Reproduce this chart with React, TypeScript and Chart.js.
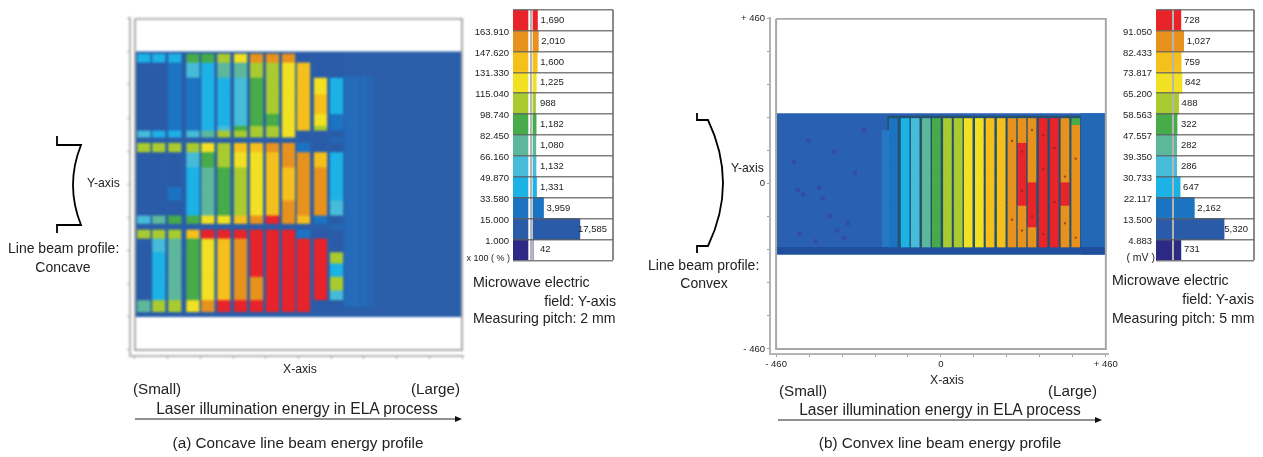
import React, { useEffect, useRef } from "react";
import { Chart, registerables } from "chart.js";

Chart.register(...registerables);

const FONT = '"Liberation Sans", Arial, sans-serif';

// Legend bins, top to bottom
const palette = ["#e8232a", "#e8921e", "#f6c01c", "#f2e022", "#a9cb2f", "#46ab48", "#5db89b", "#46bcd8", "#1cb2e6", "#1b74c2", "#2a5ba8", "#2c2a85"];

const concaveCounts = [1690, 2010, 1600, 1225, 988, 1182, 1080, 1132, 1331, 3959, 17585, 42];
const concaveTicks = ["163.910", "147.620", "131.330", "115.040", "98.740", "82.450", "66.160", "49.870", "33.580", "15.000", "1.000"];
const convexCounts = [728, 1027, 759, 842, 488, 322, 282, 286, 647, 2162, 5320, 731];
const convexTicks = ["91.050", "82.433", "73.817", "65.200", "58.563", "47.557", "39.350", "30.733", "22.117", "13.500", "4.883"];

const axisTicks = [-460, -368, -276, -184, -92, 0, 92, 184, 276, 368, 460];

// Concave map: stripe centres (x-axis units), band row edges (y-axis units) and percent values
const concaveStripeX = [-435, -393, -348, -297, -255, -210, -163, -118, -73, -28, 14, 62, 107];
const concaveHaloX = [151, 196];
const concaveEdges1 = [362, 339, 297, 251, 196, 163, 150, 131];
const concaveEdges2 = [114, 90, 48, -7, -44, -86, -109];
const concaveEdges3 = [-127, -150, -188, -219, -256, -294, -321, -354];
const concaveBand1 = [
  [45, 45, 45, 85, 85, 110, 125, 150, 150, 150, 12, 12, 12],
  [14, 14, 20, 55, 45, 70, 75, 110, 115, 130, 140, 12, 12],
  [14, 14, 20, 30, 40, 45, 60, 85, 105, 125, 135, 130, 45],
  [14, 14, 20, 20, 40, 45, 60, 90, 100, 125, 140, 135, 45],
  [14, 14, 20, 20, 40, 45, 65, 85, 90, 120, 135, 130, 30],
  [14, 14, 20, 25, 35, 50, 90, 100, 110, 120, 140, 115, 20],
  [50, 45, 45, 60, 70, 100, 115, 110, 115, 125, 12, 12, 12],
];
const concaveBand2 = [
  [100, 100, 100, 115, 125, 115, 140, 145, 155, 150, 20, 12, 12],
  [14, 14, 14, 55, 90, 100, 125, 125, 140, 150, 148, 140, 40],
  [14, 14, 14, 45, 75, 88, 115, 125, 135, 145, 148, 150, 45],
  [14, 14, 20, 45, 70, 88, 115, 125, 135, 145, 150, 150, 45],
  [14, 14, 14, 40, 75, 88, 110, 125, 140, 150, 150, 150, 60],
  [60, 80, 85, 90, 125, 125, 135, 150, 165, 150, 145, 20, 12],
];
const concaveBand3 = [
  [110, 115, 115, 135, 165, 170, 170, 175, 170, 170, 20, 12, 12],
  [14, 50, 70, 90, 125, 145, 150, 170, 170, 170, 170, 165, 12],
  [14, 45, 70, 88, 125, 135, 150, 165, 170, 170, 170, 170, 100],
  [14, 40, 70, 88, 120, 135, 150, 165, 170, 170, 170, 170, 40],
  [14, 45, 70, 88, 120, 135, 150, 160, 170, 170, 170, 170, 105],
  [14, 40, 70, 95, 125, 135, 150, 160, 170, 170, 170, 170, 60],
  [70, 110, 115, 125, 150, 170, 170, 170, 170, 170, 170, 14, 12],
];

// Convex map: stripe centres, row edges and mV values
const convexStripeX = [-133, -100, -72, -41, -13, 18, 48, 76, 107, 137, 168, 198, 226, 254, 285, 316, 346, 376];
const convexEdges = [182, 165, 115, 60, 5, -60, -120, -176];
const convexRows = [
  [18, 24, 32, 42, 50, 60, 62, 66, 68, 74, 76, 84, 84, 86, 93, 93, 86, 50],
  [20, 28, 34, 42, 52, 60, 62, 67, 70, 76, 78, 84, 86, 88, 95, 95, 88, 84],
  [20, 28, 34, 44, 52, 60, 63, 67, 70, 76, 78, 84, 92, 86, 95, 93, 86, 84],
  [20, 28, 34, 44, 54, 60, 62, 68, 70, 76, 80, 85, 93, 88, 95, 95, 88, 84],
  [20, 28, 34, 42, 52, 60, 62, 67, 70, 76, 78, 86, 93, 92, 93, 95, 92, 84],
  [20, 28, 34, 42, 52, 60, 63, 67, 71, 76, 78, 84, 88, 93, 95, 93, 88, 84],
  [18, 26, 34, 42, 50, 60, 62, 67, 70, 74, 76, 84, 86, 88, 93, 92, 86, 84],
];

// Mottling visible on the flat blue part of the convex map, and the dark flecks on its red stripes
const convexBlotchX = [-400, -385, -340, -330, -290, -270, -260, -410, -370, -310, -240, -215, -350, -300, -395];
const convexBlotchY = [-18, -30, -10, -40, -130, -150, -110, 60, 120, -90, 30, 150, -160, 90, -140];
const convexFleckX = [198, 226, 226, 254, 254, 285, 285, 316, 316, 346, 346, 376, 376, 198, 226, 285];
const convexFleckY = [120, 90, -20, 150, -90, 40, -140, 100, -50, 20, -110, 70, -150, -100, -130, 135];

const rectXs = (lo: number, hi: number) => [lo, hi, hi, lo];

const concaveBackgroundX = [-460, 460];
const concaveBackgroundY = [-369, 369];
const concaveGlowX = [88, 190];
const convexBackgroundX = [-460, 460];
const convexBackgroundY = [-197, 197];
const convexBaseX = [-150, 390];
const convexBaseY = [-178, 190];
const convexFootY = [-197, -176];
const convexLightX = [-165, -140];
const convexLightY = [-176, 150];
const convexEndX = [392, 460];

function binColor(value: number, ticks: string[]) {
  const passed = ticks.filter((t) => value >= parseFloat(t)).length;
  return palette[11 - passed];
}

function rect(x: number[], y: number[], color: string, order: number) {
  const xs = rectXs(x[0], x[1]);
  const ys = [y[0], y[0], y[1], y[1]];
  return {
    type: "line",
    data: xs.map((v, i) => ({ x: v, y: ys[i] })),
    backgroundColor: color,
    borderWidth: 0,
    pointRadius: 0,
    fill: "shape",
    tension: 0,
    order,
  };
}

function dots(xs: number[], ys: number[], color: string, radius: number, order: number) {
  return {
    type: "line",
    data: xs.map((x, i) => ({ x, y: ys[i] })),
    showLine: false,
    pointStyle: "rect",
    pointRadius: radius,
    pointBorderWidth: 0,
    pointBackgroundColor: color,
    order,
  };
}

function frame() {
  const xs = [-460, 460, 460, -460, -460];
  const ys = [460, 460, -460, -460, 460];
  return {
    type: "line",
    data: xs.map((v, i) => ({ x: v, y: ys[i] })),
    borderColor: "#a8a8a8",
    borderWidth: 2,
    pointRadius: 0,
    fill: false,
    tension: 0,
    order: 0,
  };
}

function rowBars(stripes: number[], edges: number[], rows: number[][], ticks: string[], thickness: number, order: number) {
  return rows.map((row, r) => ({
    type: "bar",
    data: stripes.map((x) => ({ x, y: [edges[r + 1], edges[r]] })),
    backgroundColor: row.map((v) => binColor(v, ticks)),
    barThickness: thickness,
    order,
  }));
}

function heatOptions(cfg: { xMin: number; xMax: number; yMin: number; labels: boolean; axisW: number; axisH: number; right: number }) {
  const tickText = (v: number) => (v === 460 ? "+ 460" : v === -460 ? "- 460" : v === 0 ? "0" : "");
  const common = () => ({
    type: "linear",
    offset: false,
    afterBuildTicks: (s: any) => {
      s.ticks = axisTicks.map((value) => ({ value }));
    },
    border: { color: "#b4b4b4", width: 2 },
    grid: { offset: false, drawOnChartArea: false, drawTicks: true, tickLength: 3, color: "#a0a0a0" },
    ticks: {
      autoSkip: false,
      maxRotation: 0,
      padding: 2,
      color: "#222",
      font: { family: FONT, size: 9.5 },
      callback: (v: number) => (cfg.labels ? tickText(v) : ""),
    },
  });
  return {
    responsive: false,
    animation: false as const,
    events: [],
    layout: { padding: { top: 8, right: cfg.right, left: 0, bottom: 0 } },
    plugins: { legend: { display: false }, tooltip: { enabled: false } },
    datasets: { bar: { grouped: false } },
    scales: {
      x: { ...common(), min: cfg.xMin, max: cfg.xMax, afterFit: (s: any) => { s.height = cfg.axisH; } },
      y: { ...common(), min: cfg.yMin, max: 462, afterFit: (s: any) => { s.width = cfg.axisW; } },
    },
  };
}

function histChart(canvas: HTMLCanvasElement, counts: number[], ticks: string[], cfg: { xMin: number; sepEnd: number; sep: number; xMax: number; axisW: number; top: number; bottom: number }) {
  const rows = counts.map((_, i) => i + 0.5);
  const labelPlugin = {
    id: "countLabels",
    afterDatasetsDraw(chart: any) {
      const { ctx, scales, chartArea } = chart;
      ctx.save();
      ctx.font = `9.5px ${FONT}`;
      ctx.fillStyle = "#222";
      ctx.textBaseline = "middle";
      counts.forEach((c, i) => {
        const text = c.toLocaleString("en-US");
        const zero = scales.x.getPixelForValue(0);
        const end = scales.x.getPixelForValue(c);
        const w = ctx.measureText(text).width;
        const x = Math.min(chartArea.right - 6 - w, Math.max(end + 3, zero + 7));
        ctx.fillText(text, x, scales.y.getPixelForValue(rows[i]));
      });
      ctx.restore();
    },
  };
  return new Chart(canvas, {
    type: "bar",
    plugins: [labelPlugin],
    data: {
      datasets: [
        {
          data: counts.map((c, i) => ({ y: rows[i], x: c })),
          backgroundColor: palette,
          barThickness: 21.3,
          order: 1,
        },
        {
          data: counts.map((_, i) => ({ y: rows[i], x: [cfg.xMin, cfg.sepEnd] })),
          backgroundColor: palette,
          barThickness: 21.3,
          order: 2,
        },
      ] as any,
    },
    options: {
      indexAxis: "y",
      responsive: false,
      animation: false,
      events: [],
      layout: { padding: { top: cfg.top, bottom: cfg.bottom, left: 0, right: 1 } },
      plugins: { legend: { display: false }, tooltip: { enabled: false } },
      datasets: { bar: { grouped: false } },
      scales: {
        x: {
          type: "linear",
          offset: false,
          min: cfg.xMin,
          max: cfg.xMax,
          afterBuildTicks: (s: any) => {
            s.ticks = [{ value: cfg.sep }, { value: cfg.xMax }];
          },
          border: { display: false },
          grid: {
            z: 1,
            offset: false,
            drawTicks: false,
            color: (c: any) => (c.tick.value === cfg.sep ? "#b5b5b5" : "#8a8a8a"),
            lineWidth: 2,
          },
          ticks: { display: false },
          afterFit: (s: any) => { s.height = 0; },
        },
        y: {
          type: "linear",
          offset: false,
          reverse: true,
          min: 0,
          max: 12,
          afterBuildTicks: (s: any) => {
            s.ticks = Array.from({ length: 13 }, (_, value) => ({ value }));
          },
          border: { display: false },
          grid: { z: 1, offset: false, drawTicks: false, color: "rgba(95,95,95,0.8)", lineWidth: 1.5 },
          ticks: {
            autoSkip: false,
            padding: 4,
            labelOffset: 1.5,
            color: "#222",
            font: { family: FONT, size: 9.5 },
            callback: (v: number) => ticks[v - 1] ?? "",
          },
          afterFit: (s: any) => { s.width = cfg.axisW; },
        },
      },
    } as any,
  });
}

type Note = { t: string; x: number; y: number; s?: number; anchor?: "l" | "c" | "r" };

const notes: Note[] = [
  { t: "Y-axis", x: 87, y: 183, s: 12.2 },
  { t: "Line beam profile:", x: 8, y: 248, s: 14 },
  { t: "Concave", x: 63, y: 267, s: 14, anchor: "c" },
  { t: "X-axis", x: 300, y: 369, s: 12.2, anchor: "c" },
  { t: "(Small)", x: 133, y: 389, s: 15.2 },
  { t: "(Large)", x: 460, y: 389, s: 15.2, anchor: "r" },
  { t: "Laser illumination energy in ELA process", x: 297, y: 409, s: 15.6, anchor: "c" },
  { t: "(a) Concave line beam energy profile", x: 298, y: 443, s: 15.3, anchor: "c" },
  { t: "Microwave electric", x: 473, y: 282, s: 14.2 },
  { t: "field: Y-axis", x: 616, y: 301, s: 14.2, anchor: "r" },
  { t: "Measuring pitch: 2 mm", x: 473, y: 318, s: 14.1 },
  { t: "x 100 ( % )", x: 510, y: 258, s: 9, anchor: "r" },
  { t: "Y-axis", x: 731, y: 168, s: 12.2 },
  { t: "Line beam profile:", x: 648, y: 265, s: 14 },
  { t: "Convex", x: 704, y: 283, s: 14, anchor: "c" },
  { t: "X-axis", x: 947, y: 380, s: 12.2, anchor: "c" },
  { t: "(Small)", x: 779, y: 391, s: 15.2 },
  { t: "(Large)", x: 1097, y: 391, s: 15.2, anchor: "r" },
  { t: "Laser illumination energy in ELA process", x: 940, y: 410, s: 15.6, anchor: "c" },
  { t: "(b) Convex line beam energy profile", x: 940, y: 443, s: 15.3, anchor: "c" },
  { t: "Microwave electric", x: 1112, y: 280, s: 14.2 },
  { t: "field: Y-axis", x: 1254, y: 299, s: 14.2, anchor: "r" },
  { t: "Measuring pitch: 5 mm", x: 1112, y: 318, s: 14.1 },
  { t: "( mV )", x: 1155, y: 257, s: 10.5, anchor: "r" },
];

export default function App() {
  const heatA = useRef<HTMLCanvasElement>(null);
  const histA = useRef<HTMLCanvasElement>(null);
  const heatB = useRef<HTMLCanvasElement>(null);
  const histB = useRef<HTMLCanvasElement>(null);

  useEffect(() => {
    document.body.style.margin = "0";
    const charts: Chart[] = [];

    charts.push(
      new Chart(heatA.current!, {
        type: "bar",
        data: {
          datasets: [
            frame(),
            ...rowBars(concaveStripeX, concaveEdges1, concaveBand1, concaveTicks, 12.5, 5),
            ...rowBars(concaveStripeX, concaveEdges2, concaveBand2, concaveTicks, 12.5, 5),
            ...rowBars(concaveStripeX, concaveEdges3, concaveBand3, concaveTicks, 12.5, 5),
            {
              type: "bar",
              data: concaveHaloX.map((x) => ({ x, y: [-340, 300] })),
              backgroundColor: "rgba(30,130,215,0.22)",
              barThickness: 12,
              order: 8,
            },
            rect(concaveGlowX, [-340, 300], "rgba(30,125,210,0.28)", 9),
            rect(concaveBackgroundX, concaveBackgroundY, "#2a5ea9", 10),
          ] as any,
        },
        options: heatOptions({ xMin: -474, xMax: 463, yMin: -477, labels: false, axisW: 30, axisH: 24, right: 0 }) as any,
      })
    );

    charts.push(
      new Chart(heatB.current!, {
        type: "bar",
        data: {
          datasets: [
            frame(),
            dots(convexFleckX, convexFleckY, "rgba(120,40,20,0.65)", 1.5, 2),
            ...rowBars(convexStripeX, convexEdges, convexRows, convexTicks, 8, 5),
            rect(convexLightX, convexLightY, "#2578c4", 8),
            rect(convexBaseX, convexBaseY, "#24516e", 8),
            rect(convexEndX, convexBackgroundY, "#2268b6", 9),
            rect(convexBackgroundX, convexFootY, "#1f4e9c", 7),
            dots(convexBlotchX, convexBlotchY, "rgba(60,60,160,0.55)", 3, 9),
            rect(convexBackgroundX, convexBackgroundY, "#2a60b2", 10),
          ] as any,
        },
        options: heatOptions({ xMin: -477, xMax: 466, yMin: -474, labels: true, axisW: 40, axisH: 26, right: 17 }) as any,
      })
    );

    charts.push(histChart(histA.current!, concaveCounts, concaveTicks, { xMin: -7490, sepEnd: -1870, sep: -900, xMax: 30000, axisW: 43, top: 9, bottom: 7 }));
    charts.push(histChart(histB.current!, convexCounts, convexTicks, { xMin: -1915, sepEnd: -213, sep: -106, xMax: 8500, axisW: 56, top: 8, bottom: 7 }));

    return () => charts.forEach((c) => c.destroy());
  }, []);

  const box = (l: number, t: number, extra?: React.CSSProperties): React.CSSProperties => ({
    position: "absolute",
    left: l,
    top: t,
    ...extra,
  });

  return (
    <div style={{ position: "absolute", left: 0, top: 0, width: 1263, height: 457, background: "#fff", overflow: "hidden", fontFamily: FONT }}>
      <canvas ref={heatA} width={364} height={370} style={box(100, 10, { filter: "blur(0.9px)" })} />
      <canvas ref={heatB} width={395} height={370} style={box(730, 10, { filter: "blur(0.6px)" })} />
      <canvas ref={histA} width={144} height={270} style={box(470, 0, { filter: "blur(0.3px)" })} />
      <canvas ref={histB} width={155} height={270} style={box(1100, 0, { filter: "blur(0.3px)" })} />
      <svg width={1263} height={457} style={box(0, 0, { pointerEvents: "none" })}>
        <g fill="none" stroke="#000" strokeWidth={1.8}>
          <path d="M57 136 V145 H81 Q65 185 81 225 H57 V233" />
          <path d="M697 113 V120 H708 Q738 183 708 246 H697 V253" />
        </g>
        <g stroke="#222" strokeWidth={1}>
          <line x1={135} y1={419} x2={456} y2={419} />
          <line x1={778} y1={420} x2={1096} y2={420} />
        </g>
        <polygon points="455,416 462,419 455,422" fill="#111" />
        <polygon points="1095,417 1102,420 1095,423" fill="#111" />
      </svg>
      {notes.map((n, i) => (
        <div
          key={i}
          style={{
            position: "absolute",
            left: n.x,
            top: n.y,
            fontSize: n.s ?? 12,
            lineHeight: 1,
            whiteSpace: "nowrap",
            color: "#222",
            transform: `translate(${n.anchor === "c" ? "-50%" : n.anchor === "r" ? "-100%" : "0"}, -50%)`,
          }}
        >
          {n.t}
        </div>
      ))}
    </div>
  );
}
